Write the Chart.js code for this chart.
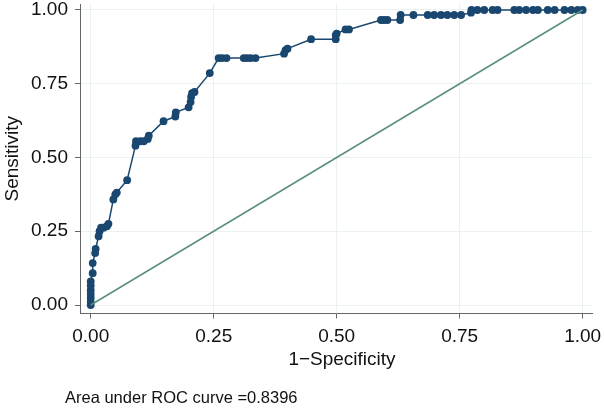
<!DOCTYPE html>
<html>
<head>
<meta charset="utf-8">
<script src="https://cdn.jsdelivr.net/npm/chart.js@4/dist/chart.umd.min.js"></script>
<style>
  body { margin: 0; background: #fff; }
  canvas { display: block; }
</style>
</head>
<body>
<canvas id="rocChart" width="604" height="410"></canvas>
<script>
// 1-Specificity (false positive rate)
const fpr = [
    0, 0, 0, 0, 0, 0, 0,
    0.004, 0.004, 0.009, 0.010, 0.016, 0.018, 0.021, 0.026, 0.033, 0.036,
    0.046, 0.050, 0.053, 0.074,
    0.091, 0.092, 0.101, 0.108, 0.116, 0.118,
    0.148, 0.172, 0.173, 0.199, 0.203, 0.204, 0.206, 0.211,
    0.242, 0.260, 0.267, 0.276, 0.311, 0.318, 0.325, 0.335,
    0.393, 0.396, 0.400, 0.448, 0.498, 0.498, 0.500, 0.518, 0.525,
    0.590, 0.596, 0.603, 0.629, 0.630, 0.656, 0.685, 0.698, 0.712, 0.725, 0.739, 0.753,
    0.773, 0.774, 0.786, 0.800, 0.817, 0.827, 0.861, 0.871, 0.885, 0.899, 0.909,
    0.929, 0.943, 0.963, 0.977, 0.990, 1.000
];
// Sensitivity (true positive rate)
const tpr = [
    0, 0.010, 0.024, 0.037, 0.050, 0.066, 0.080,
    0.108, 0.142, 0.176, 0.190, 0.233, 0.250, 0.262, 0.262, 0.267, 0.275,
    0.358, 0.375, 0.381, 0.423,
    0.540, 0.555, 0.555, 0.555, 0.563, 0.574,
    0.623, 0.639, 0.653, 0.670, 0.688, 0.705, 0.718, 0.722,
    0.786, 0.837, 0.837, 0.837, 0.837, 0.837, 0.837, 0.837,
    0.852, 0.864, 0.869, 0.901, 0.901, 0.915, 0.920, 0.934, 0.934,
    0.966, 0.966, 0.966, 0.966, 0.983, 0.983, 0.983, 0.983, 0.983, 0.983, 0.983, 0.983,
    0.991, 1, 1, 1, 1, 1, 1, 1, 1, 1, 1,
    1, 1, 1, 1, 1, 1
];
const refX = [0, 1];
const refY = [0, 1];
const tickValues = [0, 0.25, 0.5, 0.75, 1];
const xTitle = '1\u2212Specificity';
const aucText = 'Area under ROC curve =0.8396';

const fontFamily = '"Liberation Sans", Arial, Helvetica, sans-serif';
const axisGrey = '#666666';
const gridTint = '#e9f1f3';

// x title and footnote under the plot
const footnote = {
    id: 'footnote',
    afterDraw(chart) {
        const ctx = chart.ctx;
        ctx.save();
        ctx.fillStyle = '#111';
        ctx.textBaseline = 'middle';
        ctx.font = '19px ' + fontFamily;
        ctx.textAlign = 'center';
        ctx.fillText(xTitle, 342, 360);
        ctx.font = '16.5px ' + fontFamily;
        ctx.textAlign = 'left';
        ctx.fillText(aucText, 65, 398);
        ctx.restore();
    }
};

const setTicks = (scale) => {
    scale.ticks = tickValues.map(v => ({ value: v }));
};

new Chart(document.getElementById('rocChart').getContext('2d'), {
    type: 'scatter',
    data: {
        datasets: [{
            label: 'ROC',
            data: fpr.map((x, i) => ({ x: x, y: tpr[i] })),
            showLine: true,
            borderColor: '#1a476f',
            backgroundColor: '#1a476f',
            borderWidth: 1.5,
            pointRadius: 3.9,
            pointBorderWidth: 0,
            order: 2
        }, {
            label: 'Reference',
            data: refX.map((x, i) => ({ x: x, y: refY[i] })),
            showLine: true,
            borderColor: '#5b8f7c',
            borderWidth: 1.5,
            pointRadius: 0,
            order: 1
        }]
    },
    options: {
        responsive: false,
        animation: false,
        layout: { padding: { top: 1, right: 12, left: 0, bottom: 0 } },
        plugins: {
            legend: { display: false },
            tooltip: { enabled: false }
        },
        scales: {
            x: {
                type: 'linear',
                min: -0.0218,
                max: 1.019,
                afterBuildTicks: setTicks,
                afterFit: (scale) => {
                    scale.height = 96.5;
                    scale.paddingLeft = 0;
                    scale.paddingRight = 0;
                },
                border: { color: axisGrey, width: 1 },
                grid: { color: gridTint, tickColor: axisGrey, tickLength: 5 },
                ticks: {
                    color: '#111',
                    padding: 7,
                    maxRotation: 0,
                    font: { family: fontFamily, size: 19 },
                    callback: (v) => v.toFixed(2)
                }
            },
            y: {
                type: 'linear',
                min: -0.0288,
                max: 1.0203,
                afterBuildTicks: setTicks,
                afterFit: (scale) => {
                    scale.width = 80;
                    scale.paddingTop = 0;
                    scale.paddingBottom = 0;
                },
                border: { color: axisGrey, width: 1 },
                grid: { color: gridTint, tickColor: axisGrey, tickLength: 5 },
                ticks: {
                    color: '#111',
                    padding: 7,
                    font: { family: fontFamily, size: 19 },
                    callback: (v) => v.toFixed(2)
                },
                title: {
                    display: true,
                    text: 'Sensitivity',
                    color: '#111',
                    font: { family: fontFamily, size: 19 },
                    padding: { top: 1, bottom: 0 }
                }
            }
        }
    },
    plugins: [footnote]
});
</script>
</body>
</html>
